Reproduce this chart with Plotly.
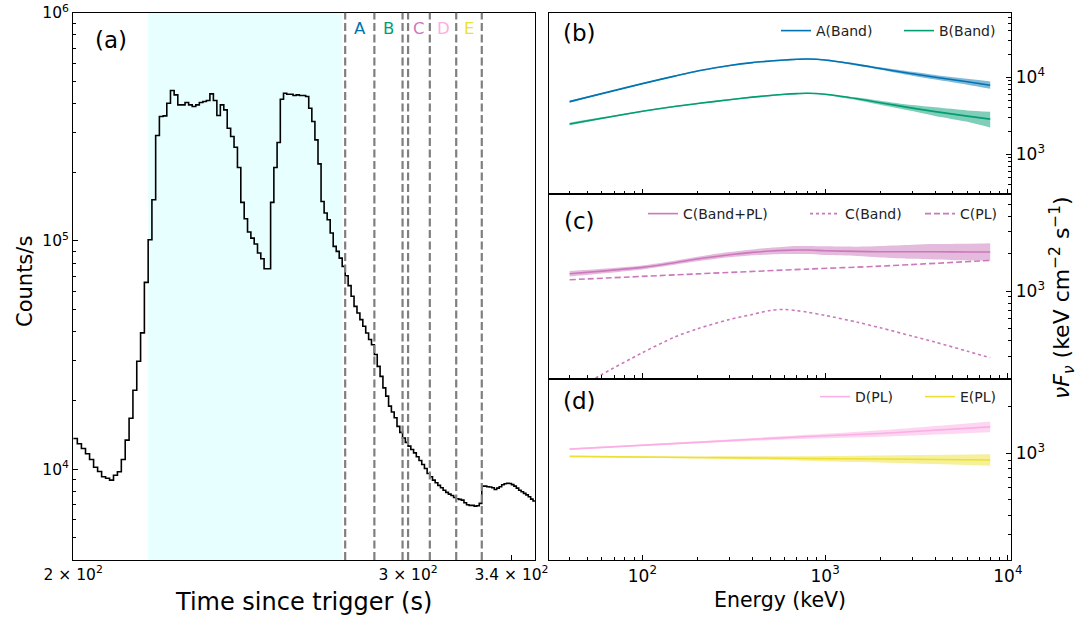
import numpy as np
import plotly.graph_objects as go

# ---------------- (a) light curve ----------------
t_start = 200          # left edge of first 1-s bin (s)
bin_width = 1
counts = [
    13630, 12920, 12320, 11680, 11030, 10200, 9770, 9260, 9130, 8950,
    9410, 9740, 11030, 13400, 16720, 22170, 29690, 39540, 65820, 101200,
    151500, 289600, 350800, 353200, 401300, 455900, 436400, 394600, 394600, 403900,
    394600, 388000, 394600, 403900, 408000, 412100, 440800, 412100, 354300, 394600,
    375100, 311900, 286800, 257500, 209800, 147500, 125100, 109400, 102900, 96900,
    88500, 83600, 75500, 75500, 147500, 209800, 269900, 417800, 443700, 439300,
    439300, 433500, 436400, 433500, 433500, 429100, 381500, 333600, 277300, 217700,
    148900, 132500, 123800, 108300, 94700, 90000, 84100, 77400, 70400, 63700,
    57200, 51700, 48300, 45200, 42300, 39500, 37000, 35100, 31800, 28200,
    25500, 22700, 20900, 18900, 17800, 16800, 15400, 14500, 13700, 13100,
    12620, 12200, 11790, 11330, 10920, 10490, 10070, 9580, 9260, 8950,
    8720, 8490, 8290, 8090, 7910, 7775, 7670, 7520, 7420, 7370,
    7320, 7130, 6985, 6940, 6940, 6890, 6910, 7080, 8430, 8430,
    8375, 8350, 8290, 8150, 8260, 8375, 8540, 8630, 8680, 8650,
    8560, 8430, 8260, 8090, 7960, 7830, 7720, 7570, 7390, 7250,
]
shade_interval = [219, 277]
boundaries = [278, 288, 298, 300, 308, 318, 328]
interval_names = ["A", "B", "C", "D", "E"]
interval_ranges = [(278, 288), (288, 298), (300, 308), (308, 318), (318, 328)]

# ---------------- spectra ----------------
energy = [40, 60, 100, 150, 200, 300, 400, 500, 600, 700, 800, 1000, 1500, 2000, 3000, 4000, 6000, 8000]
A_mid = [4826, 6130, 8270, 10350, 12050, 14200, 15500, 16250, 16780, 17120, 17290, 16780, 14600, 13000, 11100, 10000, 8750, 7900]
A_hi = [4971, 6253, 8435, 10557, 12291, 14484, 15810, 16575, 17116, 17462, 17636, 17116, 15038, 13533, 11788, 10720, 9573, 8816]
A_lo = [4685, 6010, 8108, 10147, 11814, 13922, 15196, 15931, 16451, 16784, 16951, 16451, 14175, 12488, 10452, 9328, 7998, 7079]
B_mid = [2475, 2932, 3614, 4180, 4560, 5120, 5520, 5800, 6010, 6130, 6190, 6008, 5250, 4680, 3980, 3580, 3130, 2860]
B_hi = [2576, 3020, 3686, 4264, 4651, 5222, 5630, 5916, 6130, 6253, 6314, 6128, 5465, 4970, 4354, 4074, 3709, 3561]
B_lo = [2378, 2847, 3543, 4098, 4471, 5020, 5412, 5686, 5892, 6010, 6069, 5890, 5043, 4407, 3638, 3146, 2641, 2229]
C_tot = [1380, 1450, 1553, 1693, 1813, 1965, 2052, 2103, 2129, 2142, 2142, 2116, 2090, 2077, 2077, 2077, 2064, 2064]
C_tot_hi = [1450, 1514, 1612, 1757, 1893, 2065, 2169, 2238, 2278, 2307, 2307, 2294, 2280, 2308, 2366, 2395, 2409, 2425]
C_tot_lo = [1313, 1389, 1496, 1631, 1737, 1870, 1941, 1976, 1990, 1989, 1989, 1952, 1916, 1869, 1824, 1801, 1769, 1757]
C_band = [150, 213, 319, 426, 497, 591, 649, 699, 712, 695, 677, 637, 562, 507, 434, 388, 328, 290]

pl_energy = [40, 200, 800, 2000, 8000]
C_pl = [1235, 1377, 1505, 1590, 1768]
D_mid = [1060, 1171, 1276, 1334, 1471]
D_hi = [1070, 1188, 1308, 1401, 1595]
D_lo = [1050, 1154, 1233, 1270, 1357]
E_mid = [952, 937, 923, 916, 902]
E_hi = [961, 951, 955, 966, 982]
E_lo = [943, 923, 892, 868, 828]

col = {"A": "#0173B2", "B": "#029E73", "C": "#CC78BC", "D": "#FBAFE4", "E": "#ECE133"}
fillc = {"A": "rgba(1,115,178,0.5)", "B": "rgba(2,158,115,0.5)", "C": "rgba(204,120,188,0.5)",
         "D": "rgba(251,175,228,0.5)", "E": "rgba(236,225,51,0.5)"}

FONT = "DejaVu Sans"
fig = go.Figure()

# light curve
t_edges = t_start + bin_width * np.arange(len(counts) + 1)
fig.add_trace(go.Scatter(x=t_edges, y=list(counts) + [counts[-1]], mode="lines",
                         line=dict(color="black", width=1.6, shape="hv"),
                         showlegend=False, xaxis="x", yaxis="y"))


def band(x, lo, hi, key, ax):
    fig.add_trace(go.Scatter(x=x, y=lo, mode="lines", line=dict(width=0, shape="spline", smoothing=0.8),
                             showlegend=False, xaxis="x" + ax, yaxis="y" + ax, hoverinfo="skip"))
    fig.add_trace(go.Scatter(x=x, y=hi, mode="lines", line=dict(width=0, shape="spline", smoothing=0.8),
                             fill="tonexty", fillcolor=fillc[key], showlegend=False,
                             xaxis="x" + ax, yaxis="y" + ax, hoverinfo="skip"))


def curve(x, y, key, ax, name, legend, dash="solid"):
    fig.add_trace(go.Scatter(x=x, y=y, mode="lines", name=name, legend=legend,
                             line=dict(color=col[key], width=1.6, dash=dash, shape="spline", smoothing=0.8),
                             xaxis="x" + ax, yaxis="y" + ax))


band(energy, A_lo, A_hi, "A", "2")
band(energy, B_lo, B_hi, "B", "2")
curve(energy, A_mid, "A", "2", "A(Band)", "legend")
curve(energy, B_mid, "B", "2", "B(Band)", "legend2")

band(energy, C_tot_lo, C_tot_hi, "C", "3")
curve(energy, C_tot, "C", "3", "C(Band+PL)", "legend3")
curve(energy, C_band, "C", "3", "C(Band)", "legend4", dash="dot")
curve(pl_energy, C_pl, "C", "3", "C(PL)", "legend5", dash="6px,3px")

band(pl_energy, D_lo, D_hi, "D", "4")
band(pl_energy, E_lo, E_hi, "E", "4")
curve(pl_energy, D_mid, "D", "4", "D(PL)", "legend6")
curve(pl_energy, E_mid, "E", "4", "E(PL)", "legend7")

# shaded interval and boundaries
fig.add_shape(type="rect", xref="x", yref="y domain", x0=shade_interval[0], x1=shade_interval[1],
              y0=0, y1=1, fillcolor="rgba(224,255,255,0.75)", line_width=0, layer="below")
for b in boundaries:
    fig.add_shape(type="line", xref="x", yref="y domain", x0=b, x1=b, y0=0, y1=1,
                  line=dict(color="#7f7f7f", width=2.2, dash="8px,3.5px"))
for name, (a, b) in zip(interval_names, interval_ranges):
    fig.add_annotation(x=np.log10(np.sqrt(a * b)), y=1 - 29 / 619, xref="x", yref="paper", text=name,
                       xanchor="center", yanchor="middle",
                       showarrow=False, font=dict(family=FONT, size=16.5, color=col[name]))

# axes
W, H = 1078, 619
left_x = [73.2 / W, 535.4 / W]
right_x = [548.6 / W, 1011.2 / W]
yb = [1 - 194.3 / H, 1 - 12.7 / H]
yc = [1 - 378.5 / H, 1 - 194.3 / H]
yd = [1 - 560 / H, 1 - 378.5 / H]

ax_common = dict(showline=True, linecolor="black", linewidth=1.3, mirror=True, showgrid=False,
                 zeroline=False, ticks="inside", tickcolor="black", ticklen=5, tickwidth=1.1,
                 automargin=False)


def minors(decades, subs):
    return [s * 10 ** d for d in decades for s in subs]


fig.update_layout(
    width=W, height=H, margin=dict(l=0, r=0, t=0, b=0, autoexpand=False),
    paper_bgcolor="white", plot_bgcolor="white",
    font=dict(family=FONT, color="black"),
    xaxis=dict(ax_common, type="log", domain=left_x, range=[np.log10(200), np.log10(350)],
               tickvals=[200, 300, 340],
               ticktext=["2 × 10<sup>2</sup>", "3 × 10<sup>2</sup>", "3.4 × 10<sup>2</sup>"],
               tickfont=dict(size=15.5), anchor="y"),
    yaxis=dict(ax_common, type="log", domain=[1 - 560 / H, 1 - 12.7 / H], range=[np.log10(4000), 6],
               tickvals=[1e4, 1e5, 1e6], ticktext=["10<sup>4</sup>", "10<sup>5</sup>", "10<sup>6</sup>"],
               tickfont=dict(size=15.5), anchor="x",
               minor=dict(tickvals=minors([3, 4, 5], range(2, 10)), ticks="inside", ticklen=3,
                          tickcolor="black", tickwidth=1)),
)

e_minor = minors([1, 2, 3], range(2, 10))
xr = [1.487, 4.018]
for i, (dom, yr, ymaj, yminor_dec) in zip(
        [2, 3, 4],
        [(yb, [2.48, 4.839], [1e3, 1e4], [2, 3, 4]),
         (yc, [2.296, 3.78], [1e3], [2, 3]),
         (yd, [2.314, 3.478], [1e3], [2, 3])]):
    fig.update_layout(**{
        f"xaxis{i}": dict(ax_common, type="log", domain=right_x, range=xr, anchor=f"y{i}",
                          tickvals=[1e2, 1e3, 1e4],
                          ticktext=["10<sup>2</sup>", "10<sup>3</sup>", "10<sup>4</sup>"],
                          showticklabels=(i == 4), tickfont=dict(size=17),
                          minor=dict(tickvals=e_minor, ticks="inside", ticklen=3, tickcolor="black", tickwidth=1)),
        f"yaxis{i}": dict(ax_common, type="log", domain=dom, range=yr, anchor=f"x{i}", side="right",
                          tickvals=ymaj, ticktext=["10<sup>%d</sup>" % round(np.log10(v)) for v in ymaj],
                          tickfont=dict(size=17),
                          minor=dict(tickvals=minors(yminor_dec, range(2, 10)), ticks="inside", ticklen=3,
                                     tickcolor="black", tickwidth=1)),
    })

# legends (one per entry, placed like the reference)
leg_font = dict(family=FONT, size=14, color="#222222")
leg_pos = {
    "legend": (776 / W, 1 - 31 / H), "legend2": (899 / W, 1 - 31 / H),
    "legend3": (643 / W, 1 - 214 / H), "legend4": (805 / W, 1 - 214 / H), "legend5": (920 / W, 1 - 214 / H),
    "legend6": (815 / W, 1 - 397 / H), "legend7": (920 / W, 1 - 397 / H),
}
for k, (lx, ly) in leg_pos.items():
    fig.update_layout(**{k: dict(x=lx, y=ly, xanchor="left", yanchor="middle", bgcolor="rgba(0,0,0,0)",
                                 borderwidth=0, font=leg_font, itemwidth=30)})

# panel labels and axis titles
for txt, x, y in [("(a)", 111 / W, 1 - 40 / H), ("(b)", 579 / W, 1 - 33 / H),
                  ("(c)", 579 / W, 1 - 221 / H), ("(d)", 579 / W, 1 - 401 / H)]:
    fig.add_annotation(x=x, y=y, xref="paper", yref="paper", text=txt, showarrow=False,
                       xanchor="center", yanchor="middle",
                       font=dict(family=FONT, size=23, color="black"))
fig.add_annotation(x=303.6 / W, y=1 - 602 / H, xref="paper", yref="paper", text="Time since trigger (s)",
                   xanchor="center", yanchor="middle",
                   showarrow=False, font=dict(family=FONT, size=24, color="black"))
fig.add_annotation(x=25 / W, y=1 - 281 / H, xref="paper", yref="paper", text="Counts/s", textangle=-90,
                   xanchor="center", yanchor="middle",
                   showarrow=False, font=dict(family=FONT, size=21, color="black"))
fig.add_annotation(x=779.5 / W, y=1 - 600 / H, xref="paper", yref="paper", text="Energy (keV)",
                   xanchor="center", yanchor="middle",
                   showarrow=False, font=dict(family=FONT, size=20.5, color="black"))
fig.add_annotation(x=1062 / W, y=1 - 298 / H, xref="paper", yref="paper",
                   text="<i>νF</i><sub><i>ν</i></sub> (keV cm<sup>−2</sup> s<sup>−1</sup>)", textangle=-90,
                   xanchor="center", yanchor="middle",
                   showarrow=False, font=dict(family=FONT, size=22, color="black"))

fig.write_html("out.html")
